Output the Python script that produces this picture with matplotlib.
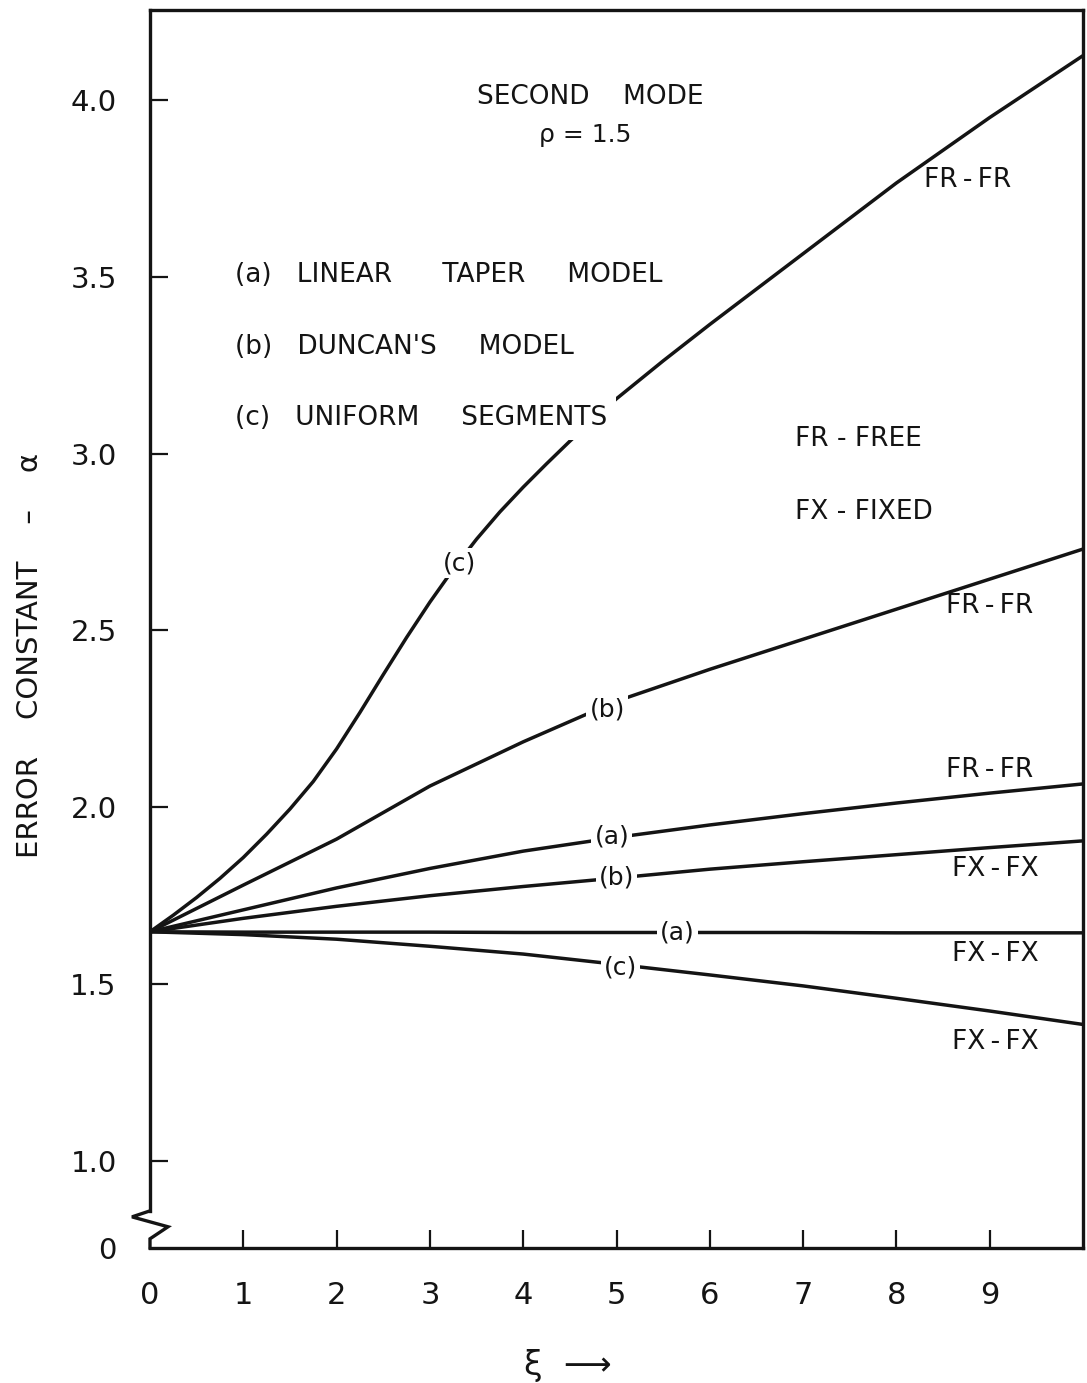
import matplotlib
matplotlib.use("Agg")
import matplotlib.pyplot as plt

# ---------------- data ----------------
xi_c_frfr = [0, 0.25, 0.5, 0.75, 1, 1.25, 1.5, 1.75, 2, 2.25, 2.5, 2.75, 3, 3.25, 3.5,
             3.75, 4, 4.25, 4.5, 4.75, 5, 5.5, 6, 7, 8, 9, 10]
err_c_frfr = [1.648, 1.695, 1.745, 1.799, 1.858, 1.924, 1.995, 2.073, 2.165, 2.268, 2.375,
              2.48, 2.58, 2.673, 2.758, 2.835, 2.905, 2.971, 3.035, 3.096, 3.155, 3.262,
              3.365, 3.565, 3.765, 3.95, 4.125]

xi = [0, 1, 2, 3, 4, 5, 6, 7, 8, 9, 10]
err_b_frfr = [1.648, 1.78, 1.91, 2.06, 2.185, 2.30, 2.39, 2.475, 2.56, 2.645, 2.73]
err_a_frfr = [1.648, 1.71, 1.772, 1.827, 1.876, 1.915, 1.95, 1.982, 2.012, 2.04, 2.066]
err_b_fxfx = [1.648, 1.686, 1.72, 1.75, 1.776, 1.80, 1.825, 1.846, 1.866, 1.886, 1.905]
err_a_fxfx = [1.648, 1.647, 1.647, 1.647, 1.646, 1.646, 1.646, 1.646, 1.645, 1.645, 1.645]
err_c_fxfx = [1.648, 1.64, 1.627, 1.607, 1.585, 1.556, 1.526, 1.495, 1.46, 1.424, 1.386]

x_ticks = [0, 1, 2, 3, 4, 5, 6, 7, 8, 9]
x_ticklabels = ["0", "1", "2", "3", "4", "5", "6", "7", "8", "9"]
y_ticks = [0.754, 1.0, 1.5, 2.0, 2.5, 3.0, 3.5, 4.0]
y_ticklabels = ["0", "1.0", "1.5", "2.0", "2.5", "3.0", "3.5", "4.0"]

# inline curve labels: (text, x, y)
inline_labels = [("(c)", 3.32, 2.69), ("(b)", 4.90, 2.277), ("(a)", 4.95, 1.918),
                 ("(b)", 5.0, 1.802), ("(a)", 5.65, 1.647), ("(c)", 5.04, 1.548)]
end_labels = [("FR\u2009-\u2009FR", 8.76, 3.774), ("FR\u2009-\u2009FR", 9.0, 2.568),
              ("FR\u2009-\u2009FR", 9.0, 2.105), ("FX\u2009-\u2009FX", 9.06, 1.825),
              ("FX\u2009-\u2009FX", 9.06, 1.585), ("FX\u2009-\u2009FX", 9.06, 1.336)]

INK = "#141414"
plt.rcParams['font.family'] = ["DejaVu Sans"]

W, H = 1087, 1383
fig = plt.figure(figsize=(W / 100, H / 100), dpi=100)
fig.patch.set_facecolor("white")
ax = fig.add_axes([150 / W, 1 - 1248 / H, (1083 - 150) / W, (1248 - 10) / H])
ax.set_xlim(0, 10)
ax.set_ylim(0.754, 4.254)

lw = 2.5
for xs, ys in [(xi_c_frfr, err_c_frfr), (xi, err_b_frfr), (xi, err_a_frfr),
               (xi, err_b_fxfx), (xi, err_a_fxfx), (xi, err_c_fxfx)]:
    ax.plot(xs, ys, color=INK, lw=lw, solid_capstyle="butt", solid_joinstyle="round", zorder=2)

# spines
for s in ax.spines.values():
    s.set_linewidth(2.4)
    s.set_color(INK)
ax.spines['left'].set_bounds(0.859, 4.254)
# axis break zigzag on the left spine
ax.plot([0, -0.193, 0.193, 0, 0], [0.859, 0.842, 0.814, 0.780, 0.754],
        color=INK, lw=2.4, clip_on=False, zorder=5, solid_joinstyle="miter")

ax.set_xticks(x_ticks)
ax.set_xticklabels(x_ticklabels)
ax.set_yticks(y_ticks)
ax.set_yticklabels(y_ticklabels)
ax.tick_params(axis='both', direction='in', length=13, width=1.6, color=INK,
               labelcolor=INK, pad=24)
ax.tick_params(axis='x', labelsize=22)
ax.tick_params(axis='y', labelsize=21)
ax.xaxis.get_major_ticks()[0].tick1line.set_visible(False)
ax.yaxis.get_major_ticks()[0].tick1line.set_visible(False)

box = dict(boxstyle="square,pad=0.12", fc="white", ec="none")
for t, x, y in inline_labels:
    ax.text(x, y, t, ha="center", va="center", fontsize=18, color=INK, bbox=box, zorder=4)
for t, x, y in end_labels:
    ax.text(x, y, t, ha="center", va="center", fontsize=19, color=INK, zorder=4)

ax.text(4.72, 4.008, "SECOND    MODE", ha="center", va="center", fontsize=19, color=INK)
ax.text(4.66, 3.90, "ρ = 1.5", ha="center", va="center", fontsize=18, color=INK)
ax.text(0.91, 3.506, "(a)   LINEAR      TAPER     MODEL", ha="left", va="center", fontsize=19, color=INK)
ax.text(0.91, 3.30, "(b)   DUNCAN'S     MODEL", ha="left", va="center", fontsize=19, color=INK)
ax.text(0.91, 3.10, "(c)   UNIFORM     SEGMENTS", ha="left", va="center", fontsize=19, color=INK,
        bbox=dict(boxstyle="square,pad=0.35", fc="white", ec="none"), zorder=4)
ax.text(6.91, 3.04, "FR - FREE", ha="left", va="center", fontsize=19, color=INK)
ax.text(6.91, 2.836, "FX - FIXED", ha="left", va="center", fontsize=19, color=INK)

fig.text(30 / W, 1 - 655 / H, "ERROR    CONSTANT    –    α", rotation=90,
         ha="center", va="center", fontsize=21, color=INK)
fig.text(568 / W, 1 - 1365 / H, "ξ  ⟶", ha="center", va="center", fontsize=24, color=INK)

fig.savefig("out.png", dpi=100, facecolor="white")
